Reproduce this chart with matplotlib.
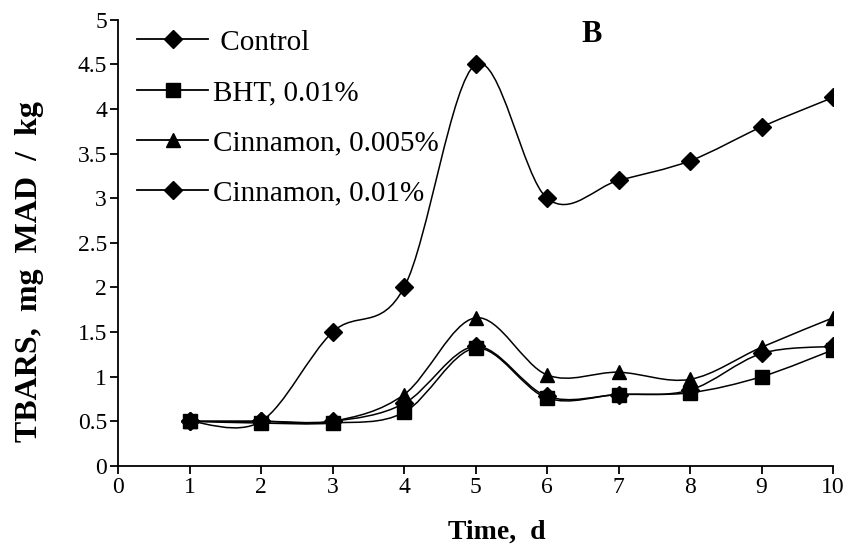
import numpy as np
import matplotlib
matplotlib.use('Agg')
import matplotlib.pyplot as plt
from matplotlib.path import Path
from matplotlib.patches import PathPatch
from matplotlib.lines import Line2D

# Datos
dias = [1, 2, 3, 4, 5, 6, 7, 8, 9, 10]
control = [0.5, 0.5, 1.5, 2.0, 4.5, 3.0, 3.2, 3.42, 3.8, 4.13]
bht = [0.5, 0.48, 0.48, 0.6, 1.32, 0.76, 0.8, 0.82, 1.0, 1.3]
canela_005 = [0.5, 0.5, 0.5, 0.8, 1.66, 1.02, 1.05, 0.97, 1.33, 1.66]
canela_01 = [0.5, 0.5, 0.5, 0.7, 1.34, 0.78, 0.8, 0.85, 1.26, 1.34]

etiquetas = [' Control', 'BHT, 0.01%', 'Cinnamon, 0.005%', 'Cinnamon, 0.01%']
marcadores = ['D', 's', '^', 'D']
tam_marcador = [9, 10.5, 10, 9]

plt.rcParams['font.family'] = ['Liberation Serif', 'DejaVu Serif']

fig = plt.figure(figsize=(8.5, 5.52), dpi=100)
ax = fig.add_axes([0.139, 0.156, 0.841, 0.808])


def curva_suave(x, y):
  # Curva tipo Catmull-Rom (como el suavizado de Excel) en coordenadas de datos
  p = np.column_stack([x, y]).astype(float)
  n = len(p)
  verts = [p[0]]
  codes = [Path.MOVETO]
  for i in range(n - 1):
    p0 = p[i - 1] if i > 0 else p[i]
    p3 = p[i + 2] if i + 2 < n else p[i + 1]
    c1 = p[i] + (p[i + 1] - p0) / 6
    c2 = p[i + 1] - (p3 - p[i]) / 6
    verts += [c1, c2, p[i + 1]]
    codes += [Path.CURVE4] * 3
  return Path(verts, codes)


series = [control, bht, canela_005, canela_01]
for k, serie in enumerate(series):
  patch = PathPatch(curva_suave(dias, serie), fill=False, edgecolor='black', lw=1.1)
  ax.add_patch(patch)
  ax.plot(dias, serie, linestyle='none', marker=marcadores[k], color='black',
          markersize=tam_marcador[k])

ax.set_xlim(0, 10)
ax.set_ylim(0, 5)
ax.set_xticks(range(0, 11))
ax.set_yticks(np.arange(0, 5.01, 0.5))
ax.set_yticklabels(['0', '0.5', '1', '1.5', '2', '2.5', '3', '3.5', '4', '4.5', '5'])
ax.tick_params(axis='both', labelsize=17, direction='out', length=6, width=1.3, pad=2)
for lado in ['top', 'right']:
  ax.spines[lado].set_visible(False)
for lado in ['left', 'bottom']:
  ax.spines[lado].set_linewidth(1.3)

ax.set_xlabel('Time,  d', fontsize=20, fontweight='bold')
ax.xaxis.set_label_coords(0.53, -0.148)
ax.set_ylabel('TBARS,  mg  MAD  /  kg', fontsize=23, fontweight='bold')
ax.yaxis.set_label_coords(-0.124, 0.435)
ax.xaxis.label.set_va('center')
ax.yaxis.label.set_va('center')

ax.text(6.63, 4.84, 'B', fontsize=22, fontweight='bold', ha='center', va='center')

manijas = [Line2D([], [], color='black', lw=1.3, marker=marcadores[k],
                  markersize=tam_marcador[k]) for k in range(4)]
leg = ax.legend(manijas, etiquetas, loc='upper left', bbox_to_anchor=(0.027, 0.979),
                frameon=False, fontsize=21, handlelength=2.43, handletextpad=0.17,
                labelspacing=0.82, borderaxespad=0, borderpad=0)

fig.savefig('out.png', dpi=100)
